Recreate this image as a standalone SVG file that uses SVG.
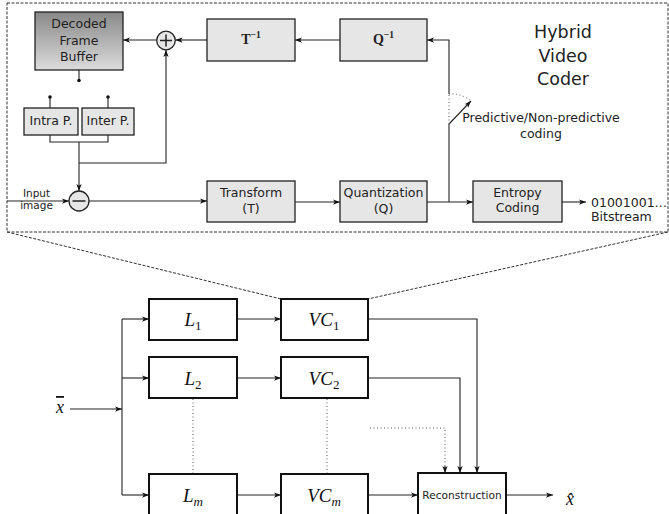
<svg xmlns="http://www.w3.org/2000/svg" width="669" height="514" viewBox="0 0 669 514">
<defs>
  <linearGradient id="dfb" x1="0" y1="0" x2="0" y2="1">
    <stop offset="0" stop-color="#888"/>
    <stop offset="1" stop-color="#dcdcdc"/>
  </linearGradient>
  <marker id="ar" viewBox="0 0 8 6" refX="8" refY="3" markerWidth="7" markerHeight="5.5" orient="auto" markerUnits="userSpaceOnUse">
    <path d="M0,0 L8,3 L0,6 L2,3 z" fill="#111"/>
  </marker>
</defs>
<style>
  .box{fill:#e6e6e6;stroke:#222;stroke-width:1.3}
  .bbox{fill:#fff;stroke:#111;stroke-width:2}
  .ln{fill:none;stroke:#222;stroke-width:1.1}
  .arr{fill:none;stroke:#222;stroke-width:1.1;marker-end:url(#ar)}
  .dot{fill:none;stroke:#555;stroke-width:1;stroke-dasharray:1 2.5}
  .zoom{fill:none;stroke:#333;stroke-width:1;stroke-dasharray:3 1.5}
  .t{font-family:"DejaVu Sans",Verdana,sans-serif;font-size:12.5px;fill:#222;text-anchor:middle}
  .s{font-family:"DejaVu Sans",Verdana,sans-serif;font-size:10.5px;fill:#222;text-anchor:middle}
  .big{font-family:"DejaVu Sans",Verdana,sans-serif;font-size:17.5px;fill:#222;text-anchor:middle}
  .m{font-family:"Liberation Serif","Times New Roman",serif;font-style:italic;font-size:19px;fill:#111;text-anchor:middle}
  .sub{font-style:normal;font-size:13px}
  .subi{font-size:13px}
  .op{font-family:"Liberation Serif","Times New Roman",serif;font-weight:bold;font-size:14px;fill:#222;text-anchor:middle}
</style>

<g id="panel">
  <rect x="7" y="3" width="661" height="229" fill="#e6e6e6" class="zoom"/>
  <text class="big" x="563" y="38">Hybrid</text>
  <text class="big" x="563" y="62">Video</text>
  <text class="big" x="563" y="85">Coder</text>
</g>

<g id="connectors">
  <!-- zoom lines -->
  <line class="zoom" x1="7" y1="232" x2="281" y2="299"/>
  <line class="zoom" x1="668" y1="232" x2="368" y2="299"/>
  <!-- forward path -->
  <line class="arr" x1="7" y1="201" x2="69" y2="201"/>
  <line class="arr" x1="89" y1="201" x2="207" y2="201"/>
  <line class="arr" x1="295" y1="202" x2="340" y2="202"/>
  <line class="arr" x1="427" y1="202" x2="473" y2="202"/>
  <line class="arr" x1="562" y1="202" x2="586" y2="202"/>
  <!-- switch and feedback -->
  <line class="ln" x1="449" y1="202" x2="449" y2="124"/>
  <line class="arr" x1="449" y1="124" x2="471" y2="101"/>
  <line class="dot" x1="449" y1="124" x2="449" y2="94"/>
  <path class="dot" d="M449,94 A31,31 0 0 1 471,101"/>
  <polyline class="arr" points="449,94 449,40 427,40"/>
  <line class="arr" x1="340" y1="40" x2="295" y2="40"/>
  <line class="arr" x1="207" y1="40" x2="175.5" y2="40"/>
  <line class="arr" x1="156.5" y1="40" x2="123" y2="40"/>
  <!-- prediction -->
  <line class="ln" x1="79" y1="70" x2="79" y2="80"/>
  <circle cx="79" cy="80.5" r="1.8" fill="#111"/>
  <line class="ln" x1="50" y1="108" x2="50" y2="97"/>
  <circle cx="50" cy="97" r="1.8" fill="#111"/>
  <line class="ln" x1="108" y1="108" x2="108" y2="97"/>
  <circle cx="108" cy="97" r="1.8" fill="#111"/>
  <polyline class="ln" points="50,135 50,142 108,142 108,135"/>
  <line class="arr" x1="79" y1="142" x2="79" y2="191"/>
  <polyline class="arr" points="79,163 166,163 166,50"/>
  <!-- bottom -->
  <line class="arr" x1="70" y1="409" x2="122" y2="409"/>
  <line class="ln" x1="122" y1="319" x2="122" y2="495"/>
  <line class="arr" x1="122" y1="319" x2="149" y2="319"/>
  <line class="arr" x1="122" y1="378" x2="149" y2="378"/>
  <line class="arr" x1="122" y1="495" x2="149" y2="495"/>
  <line class="arr" x1="237" y1="319" x2="281" y2="319"/>
  <line class="arr" x1="237" y1="378" x2="281" y2="378"/>
  <line class="arr" x1="237" y1="495" x2="281" y2="495"/>
  <line class="arr" x1="368" y1="495" x2="418" y2="495"/>
  <polyline class="arr" points="368,319 477,319 477,473"/>
  <polyline class="arr" points="368,378 460,378 460,473"/>
  <polyline class="dot" points="370,428 445,428 445,467"/>
  <line class="arr" x1="445" y1="466" x2="445" y2="473"/>
  <line class="dot" x1="193" y1="399" x2="193" y2="473"/>
  <line class="dot" x1="327" y1="399" x2="327" y2="473"/>
  <line class="arr" x1="506" y1="495" x2="553" y2="495"/>
</g>

<g id="dfb-node">
  <rect x="35" y="12" width="88" height="58" fill="url(#dfb)" stroke="#222" stroke-width="1.3"/>
  <text class="t" x="79" y="28">Decoded</text>
  <text class="t" x="79" y="45">Frame</text>
  <text class="t" x="79" y="61">Buffer</text>
</g>
<g id="plus-node">
  <circle cx="166" cy="40.5" r="9.3" fill="#e6e6e6" stroke="#222" stroke-width="1.3"/>
  <line class="ln" x1="160" y1="40.5" x2="172" y2="40.5" style="stroke-width:1.5"/>
  <line class="ln" x1="166" y1="34.5" x2="166" y2="46.5" style="stroke-width:1.5"/>
</g>
<g id="minus-node">
  <circle cx="79" cy="201" r="10" fill="#e6e6e6" stroke="#222" stroke-width="1.3"/>
  <line class="ln" x1="72.5" y1="201" x2="85.5" y2="201" style="stroke-width:1.5"/>
</g>
<g id="intra-node">
  <rect class="box" x="24" y="108" width="54" height="27"/>
  <text class="t" x="51" y="125">Intra P.</text>
</g>
<g id="inter-node">
  <rect class="box" x="82" y="108" width="52" height="27"/>
  <text class="t" x="108" y="125">Inter P.</text>
</g>
<g id="input-label">
  <text class="s" x="36.5" y="197">Input</text>
  <text class="s" x="36.5" y="209">image</text>
</g>
<g id="tinv-node">
  <rect class="box" x="207" y="19" width="88" height="42"/>
  <text class="op" x="251" y="44">T<tspan font-size="9.5" dy="-6">−1</tspan></text>
</g>
<g id="qinv-node">
  <rect class="box" x="340" y="19" width="87" height="42"/>
  <text class="op" x="383.5" y="44">Q<tspan font-size="9.5" dy="-6">−1</tspan></text>
</g>
<g id="transform-node">
  <rect class="box" x="207" y="181" width="88" height="41"/>
  <text class="t" x="251" y="197">Transform</text>
  <text class="t" x="251" y="213">(T)</text>
</g>
<g id="quant-node">
  <rect class="box" x="340" y="181" width="87" height="41"/>
  <text class="t" x="383.5" y="197">Quantization</text>
  <text class="t" x="383.5" y="213">(Q)</text>
</g>
<g id="entropy-node">
  <rect class="box" x="473" y="181" width="89" height="41"/>
  <text class="t" x="517.5" y="197">Entropy</text>
  <text class="t" x="517.5" y="212">Coding</text>
</g>
<g id="bitstream-label">
  <text class="t" x="591" y="207" style="text-anchor:start">01001001…</text>
  <text class="t" x="591" y="221" style="text-anchor:start">Bitstream</text>
</g>
<g id="switch-label">
  <text class="t" x="541" y="122">Predictive/Non-predictive</text>
  <text class="t" x="541" y="138">coding</text>
</g>

<g id="L1-node">
  <rect class="bbox" x="149" y="299" width="88" height="41"/>
  <text class="m" x="193" y="326">L<tspan class="sub" dy="4">1</tspan></text>
</g>
<g id="VC1-node">
  <rect class="bbox" x="281" y="299" width="87" height="41"/>
  <text class="m" x="324" y="326">VC<tspan class="sub" dy="4">1</tspan></text>
</g>
<g id="L2-node">
  <rect class="bbox" x="149" y="357" width="88" height="41"/>
  <text class="m" x="193" y="385">L<tspan class="sub" dy="4">2</tspan></text>
</g>
<g id="VC2-node">
  <rect class="bbox" x="281" y="357" width="87" height="41"/>
  <text class="m" x="324" y="385">VC<tspan class="sub" dy="4">2</tspan></text>
</g>
<g id="Lm-node">
  <rect class="bbox" x="149" y="474" width="88" height="42"/>
  <text class="m" x="193" y="502">L<tspan class="subi" dy="4">m</tspan></text>
</g>
<g id="VCm-node">
  <rect class="bbox" x="281" y="474" width="87" height="42"/>
  <text class="m" x="324" y="502">VC<tspan class="subi" dy="4">m</tspan></text>
</g>
<g id="recon-node">
  <rect class="bbox" x="418" y="473" width="88" height="43"/>
  <text class="t" x="462" y="499" style="font-size:10.6px">Reconstruction</text>
</g>
<g id="x-in">
  <text class="m" x="60" y="413" style="font-size:18px" text-decoration="overline">x</text>
</g>
<g id="x-out">
  <text class="m" x="570" y="505" style="font-size:18px">x̂</text>
</g>
</svg>
